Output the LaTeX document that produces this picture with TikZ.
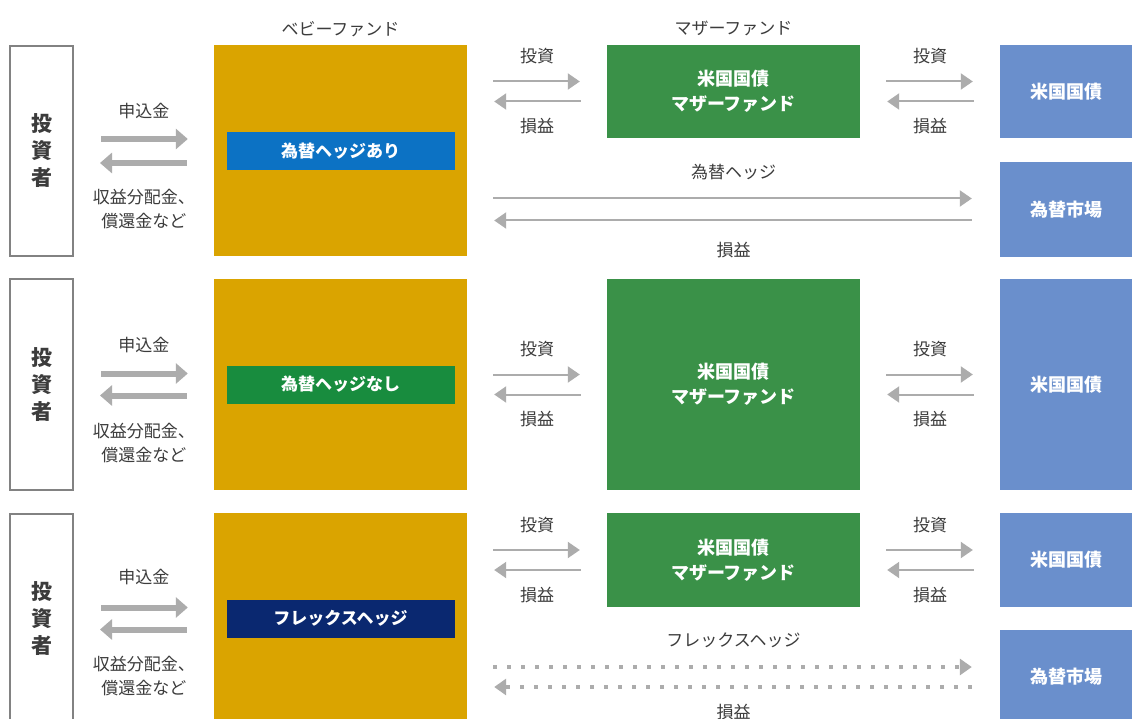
\documentclass[tikz,border=0pt]{standalone}
\usepackage{fontspec}
\setmainfont{Noto Sans CJK JP}
\usetikzlibrary{arrows.meta,calc}

\definecolor{babygold}{RGB}{218,164,0}
\definecolor{mothergreen}{RGB}{58,145,72}
\definecolor{marketblue}{RGB}{106,143,204}
\definecolor{hedgeblue}{RGB}{12,114,196}
\definecolor{nohedgegreen}{RGB}{24,140,62}
\definecolor{flexnavy}{RGB}{10,40,112}
\definecolor{textgray}{RGB}{60,60,60}
\definecolor{boxgray}{RGB}{130,130,130}
\definecolor{flowgray}{RGB}{172,172,172}

\tikzset{
  investor/.style = {draw=boxgray,line width=2pt,minimum width=63pt,minimum height=210pt,inner sep=0pt,align=center,text=textgray,font=\bfseries\fontsize{21}{27}\selectfont},
  babyfund/.style = {fill=babygold,minimum width=253pt,minimum height=211pt,inner sep=0pt},
  hedgelabel/.style = {minimum width=228pt,minimum height=38pt,inner sep=0pt,text=white,font=\bfseries\fontsize{17}{20}\selectfont},
  motherfund/.style = {fill=mothergreen,minimum width=253pt,inner sep=0pt,align=center,text=white,font=\bfseries\fontsize{18}{25}\selectfont},
  market/.style = {fill=marketblue,minimum width=132pt,inner sep=0pt,text=white,font=\bfseries\fontsize{18}{22}\selectfont},
  caption/.style = {inner sep=1pt,align=center,text=textgray,font=\fontsize{17}{24}\selectfont},
  fatflow/.style = {draw=flowgray,line width=6pt,-{Triangle[width=20pt,length=12pt]},shorten <=27pt,shorten >=26pt},
  thinflow/.style = {draw=flowgray,line width=2pt,-{Triangle[width=16pt,length=12pt]},shorten <=26pt,shorten >=27pt},
  dotflow/.style = {thinflow,line width=4pt,dash pattern=on 4pt off 10pt}
}

\begin{document}
\begin{tikzpicture}[x=1pt,y=-1pt]

	\useasboundingbox (0,0) rectangle (1132,719);
	\fill[white] (0,0) rectangle (1132,719);

	%row 1: hedged
	\node[investor] (inv1) at (41.5,151) {投\\資\\者};
	\node[babyfund] (baby1) at (340.5,151) {};
	\node[hedgelabel,fill=hedgeblue] (hedge1) at (baby1) {為替ヘッジあり};
	\node[motherfund,minimum height=93pt] (mother1) at (733.5,91.5) {米国国債\\マザーファンド};
	\node[market,minimum height=93pt] (bond1) at (1066,91.5) {米国国債};
	\node[market,minimum height=95pt] (fx1) at (1066,209.5) {為替市場};
	\node[caption] (babyhead) at ([yshift=16pt]baby1.north) {ベビーファンド};
	\node[caption] (motherhead) at ([yshift=16pt]mother1.north) {マザーファンド};

	%investors <-> baby fund
	\draw[fatflow] ([yshift=12pt]inv1.east) -- ([yshift=12pt]baby1.west) node[caption,midway,yshift=28pt] (apply1) {申込金};
	\draw[fatflow] ([yshift=-12pt]baby1.west) -- ([yshift=-12pt]inv1.east) node[caption,midway,yshift=-46pt] (payout1) {収益分配金、\\償還金など};
	%baby fund <-> mother fund
	\draw[thinflow] ($(baby1.east|-mother1.west)+(0,-10)$) -- ($(mother1.west)+(0,-10)$) node[caption,midway,yshift=25pt] (invest1a) {投資};
	\draw[thinflow] ($(mother1.west)+(0,10)$) -- ($(baby1.east|-mother1.west)+(0,10)$) node[caption,midway,yshift=-25pt] (gain1a) {損益};
	%mother fund <-> bonds
	\draw[thinflow] ($(mother1.east)+(0,-10)$) -- ($(bond1.west)+(0,-10)$) node[caption,midway,yshift=25pt] (invest1b) {投資};
	\draw[thinflow] ($(bond1.west)+(0,10)$) -- ($(mother1.east)+(0,10)$) node[caption,midway,yshift=-25pt] (gain1b) {損益};
	%baby fund <-> fx market
	\draw[thinflow,shorten >=28pt] ($(baby1.east|-fx1.west)+(0,-11)$) -- ($(fx1.west)+(0,-11)$) node[caption,midway,yshift=26pt] (hedgeflow1) {為替ヘッジ};
	\draw[thinflow,shorten <=28pt] ($(fx1.west)+(0,11)$) -- ($(baby1.east|-fx1.west)+(0,11)$) node[caption,midway,yshift=-30pt] (hedgegain1) {損益};

	%row 2: unhedged
	\node[investor] (inv2) at (41.5,384.5) {投\\資\\者};
	\node[babyfund] (baby2) at (340.5,384.5) {};
	\node[hedgelabel,fill=nohedgegreen] (hedge2) at (baby2) {為替ヘッジなし};
	\node[motherfund,minimum height=211pt] (mother2) at (733.5,384.5) {米国国債\\マザーファンド};
	\node[market,minimum height=211pt] (bond2) at (1066,384.5) {米国国債};

	\draw[fatflow] ([yshift=11pt]inv2.east) -- ([yshift=11pt]baby2.west) node[caption,midway,yshift=28pt] (apply2) {申込金};
	\draw[fatflow] ([yshift=-11pt]baby2.west) -- ([yshift=-11pt]inv2.east) node[caption,midway,yshift=-48pt] (payout2) {収益分配金、\\償還金など};
	\draw[thinflow] ($(mother2.west-|baby2.east)+(0,-10)$) -- ($(mother2.west)+(0,-10)$) node[caption,midway,yshift=25pt] (invest2a) {投資};
	\draw[thinflow] ($(mother2.west)+(0,10)$) -- ($(mother2.west-|baby2.east)+(0,10)$) node[caption,midway,yshift=-25pt] (gain2a) {損益};
	\draw[thinflow] ($(mother2.east)+(0,-10)$) -- ($(bond2.west)+(0,-10)$) node[caption,midway,yshift=25pt] (invest2b) {投資};
	\draw[thinflow] ($(bond2.west)+(0,10)$) -- ($(mother2.east)+(0,10)$) node[caption,midway,yshift=-25pt] (gain2b) {損益};

	%row 3: flex hedge
	\node[investor] (inv3) at (41.5,618.5) {投\\資\\者};
	\node[babyfund] (baby3) at (340.5,618.5) {};
	\node[hedgelabel,fill=flexnavy] (hedge3) at (baby3) {フレックスヘッジ};
	\node[motherfund,minimum height=94pt] (mother3) at (733.5,560) {米国国債\\マザーファンド};
	\node[market,minimum height=94pt] (bond3) at (1066,560) {米国国債};
	\node[market,minimum height=94pt] (fx3) at (1066,677) {為替市場};

	\draw[fatflow] ([yshift=11pt]inv3.east) -- ([yshift=11pt]baby3.west) node[caption,midway,yshift=30pt] (apply3) {申込金};
	\draw[fatflow] ([yshift=-11pt]baby3.west) -- ([yshift=-11pt]inv3.east) node[caption,midway,yshift=-47pt] (payout3) {収益分配金、\\償還金など};
	\draw[thinflow] ($(baby3.east|-mother3.west)+(0,-10)$) -- ($(mother3.west)+(0,-10)$) node[caption,midway,yshift=25pt] (invest3a) {投資};
	\draw[thinflow] ($(mother3.west)+(0,10)$) -- ($(baby3.east|-mother3.west)+(0,10)$) node[caption,midway,yshift=-25pt] (gain3a) {損益};
	\draw[thinflow] ($(mother3.east)+(0,-10)$) -- ($(bond3.west)+(0,-10)$) node[caption,midway,yshift=25pt] (invest3b) {投資};
	\draw[thinflow] ($(bond3.west)+(0,10)$) -- ($(mother3.east)+(0,10)$) node[caption,midway,yshift=-25pt] (gain3b) {損益};
	%dotted flex hedge flows
	\draw[dotflow,shorten >=28pt] ($(baby3.east|-fx3.west)+(0,-10)$) -- ($(fx3.west)+(0,-10)$) node[caption,midway,yshift=27pt] (hedgeflow3) {フレックスヘッジ};
	\draw[dotflow,shorten <=28pt] ($(fx3.west)+(0,10)$) -- ($(baby3.east|-fx3.west)+(0,10)$) node[caption,midway,yshift=-25pt] (hedgegain3) {損益};

\end{tikzpicture}
\end{document}
